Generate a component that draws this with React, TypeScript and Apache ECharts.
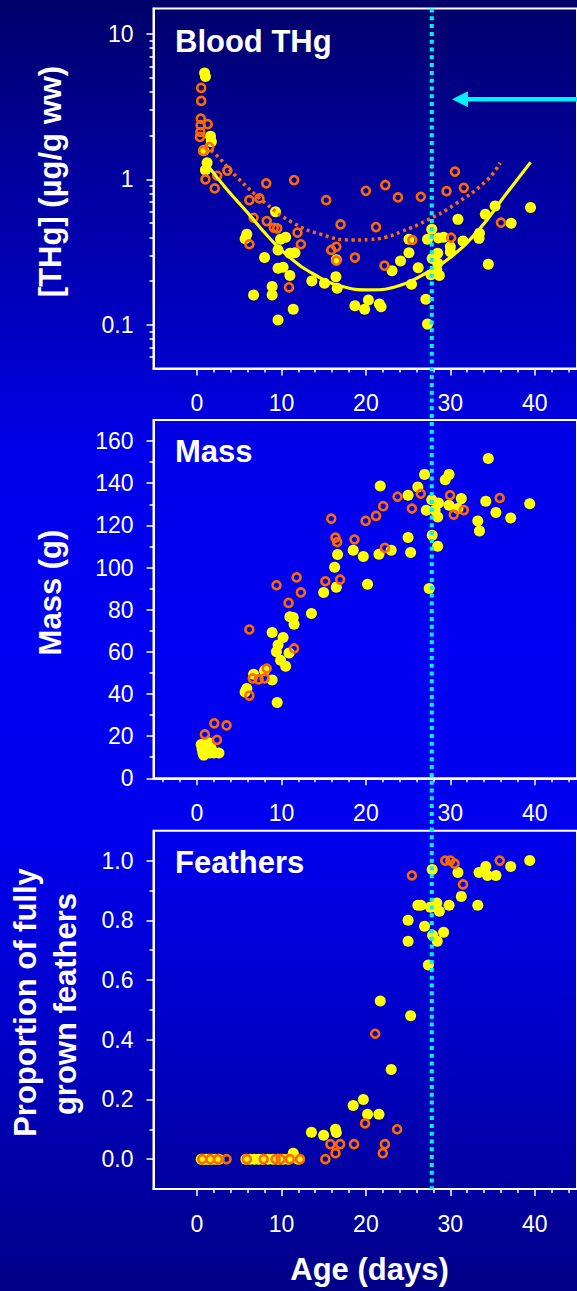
import { useEffect, useRef } from "react";
import * as echarts from "echarts";

const W = 577;
const H = 1291;
const FONT = "'Liberation Sans', Arial, Helvetica, sans-serif";

// ---- shared age axis ----
const X_MIN = -5.15;
const X_MAX = 45;
const X_MAJOR = [0, 10, 20, 30, 40];
const X_MINOR = [-4, -2, 2, 4, 6, 8, 12, 14, 16, 18, 22, 24, 26, 28, 32, 34, 36, 38, 42, 44];

// ---- Blood THg (µg/g ww), [age, value] ----
const thgFilled: [number, number][] = [
  [0.9, 5.4], [1.0, 5.1], [1.6, 1.98], [1.7, 1.82], [0.8, 1.58], [1.2, 1.3], [1.0, 1.16],
  [5.9, 0.42], [5.7, 0.39], [6.7, 0.16], [8.0, 0.29], [9.3, 0.6], [9.9, 0.387], [10.5, 0.4],
  [9.6, 0.327], [11.0, 0.31], [11.6, 0.313], [9.6, 0.245], [10.2, 0.249], [11.0, 0.218],
  [8.9, 0.183], [8.9, 0.16], [9.6, 0.108], [11.4, 0.128], [13.6, 0.2], [15.1, 0.193],
  [16.45, 0.214], [16.6, 0.178], [16.5, 0.28], [18.7, 0.135], [19.85, 0.128], [20.3, 0.148],
  [21.6, 0.139], [21.8, 0.133], [23.1, 0.235], [24.1, 0.275], [25.1, 0.313], [25.1, 0.387],
  [25.4, 0.19], [26.2, 0.247], [27.1, 0.15], [27.3, 0.101], [27.8, 0.454], [27.3, 0.387],
  [28.6, 0.395], [29.2, 0.4], [27.85, 0.286], [28.5, 0.31], [28.5, 0.265], [28.4, 0.238],
  [28.7, 0.218], [27.7, 0.221], [30.0, 0.344], [30.0, 0.318], [30.9, 0.531], [31.5, 0.377],
  [33.45, 0.426], [33.4, 0.393], [34.15, 0.575], [35.3, 0.656], [34.5, 0.261], [37.2, 0.499],
  [39.5, 0.642],
];
const thgOpen: [number, number][] = [
  [0.5, 4.26], [0.5, 3.47], [0.45, 2.62], [0.43, 2.36], [0.4, 2.12], [0.35, 1.96], [1.27, 2.4],
  [0.73, 1.57], [1.45, 1.67], [1.0, 1.0], [2.4, 1.06], [2.1, 0.867], [3.6, 1.15], [8.2, 0.94],
  [11.5, 0.99], [6.2, 0.72], [7.4, 0.74], [6.7, 0.545], [8.26, 0.517], [9.1, 0.465], [9.5, 0.46],
  [11.9, 0.43], [12.3, 0.358], [6.2, 0.358], [10.9, 0.181], [15.3, 0.72], [20.0, 0.835],
  [22.3, 0.914], [23.8, 0.752], [26.5, 0.76], [30.55, 1.13], [29.55, 0.83], [31.6, 0.875],
  [17.0, 0.49], [21.2, 0.47], [15.9, 0.327], [16.5, 0.344], [16.5, 0.276], [18.7, 0.29],
  [22.2, 0.255], [25.5, 0.383], [30.1, 0.397], [36.0, 0.504],
];
// fitted trends
const fitFilledAge = [1.4, 3.5, 6, 8.5, 11, 14, 17, 20.5, 24, 27, 30, 33.5, 36.5, 39.5];
const fitFilledTHg = [1.22, 0.86, 0.59, 0.4, 0.29, 0.22, 0.185, 0.174, 0.186, 0.225, 0.29, 0.46, 0.78, 1.31];
const fitOpenAge = [1.0, 2.2, 4.7, 8.2, 11.2, 14.6, 18.4, 20.5, 22.3, 24.2, 27.3, 30.4, 34.2, 35.9];
const fitOpenTHg = [1.68, 1.49, 1.04, 0.68, 0.51, 0.42, 0.383, 0.386, 0.4, 0.437, 0.525, 0.666, 0.97, 1.3];
const THG_MIN = 0.05;
const THG_MAX = 15;
const THG_MAJOR = [0.1, 1, 10];
const THG_MINOR = [0.06, 0.07, 0.08, 0.09, 0.2, 0.3, 0.4, 0.5, 0.6, 0.7, 0.8, 0.9, 2, 3, 4, 5, 6, 7, 8, 9];

// ---- Mass (g) ----
const massFilled: [number, number][] = [
  [0.5, 16], [0.6, 14], [0.7, 12], [0.8, 11], [1.0, 15], [1.1, 13], [1.3, 17], [1.5, 12],
  [1.7, 14], [2.0, 12], [2.6, 12],
  [5.9, 42.6], [5.7, 41], [6.7, 49.4], [8.0, 51], [8.9, 46.6], [9.5, 36], [8.9, 69.2],
  [10.2, 66.8], [9.6, 63.2], [9.4, 60], [9.9, 56], [10.5, 53.2], [10.9, 59.5], [11.0, 76.6],
  [11.4, 76.3], [11.5, 73.1], [13.55, 78.2], [15.0, 88.2], [16.5, 90.7], [16.3, 100.1],
  [16.65, 106.2], [18.5, 108.2], [19.7, 105.2], [20.2, 92.1], [21.55, 106.3], [23.0, 108.2],
  [21.7, 138.7], [25.0, 114.2], [25.3, 107.1], [25.0, 134.3], [26.15, 138.2], [26.95, 144.2],
  [27.5, 90], [27.15, 127.2], [27.8, 132.2], [28.2, 127.2], [28.6, 130.6], [28.5, 124],
  [27.85, 115.3], [28.5, 110.1], [29.4, 141.7], [29.85, 144.2], [29.85, 129.5], [31.3, 132.7],
  [30.9, 128], [33.25, 122.1], [33.45, 117.3], [34.2, 131.4], [34.5, 151.7], [35.4, 126.1],
  [37.15, 123.5], [39.4, 130.3],
];
const massOpen: [number, number][] = [
  [0.93, 20.8], [2.05, 26.1], [3.5, 25.1], [2.36, 18.2], [6.2, 39.2], [6.2, 70.6], [6.6, 47.4],
  [7.3, 46.9], [8.0, 47.4], [8.26, 52.1], [9.42, 91.6], [10.85, 83.2], [11.8, 95.3], [12.3, 88.2],
  [11.5, 61.6], [15.2, 93.5], [15.9, 123.2], [16.4, 114.2], [16.6, 112.1], [16.95, 94.3],
  [18.65, 113.3], [19.97, 122.1], [21.2, 124.5], [22.05, 129.1], [22.25, 109.3], [23.75, 133.6],
  [25.45, 128], [26.5, 135], [29.97, 134.3], [30.4, 125.1], [31.6, 127.2], [35.85, 133],
];
const MASS_MIN = 0;
const MASS_MAX = 170;
const MASS_MAJOR = [0, 20, 40, 60, 80, 100, 120, 140, 160];
const MASS_MINOR = [10, 30, 50, 70, 90, 110, 130, 150];

// ---- Proportion of fully grown feathers ----
const featherFilled: [number, number][] = [
  [0.5, 0], [0.8, 0], [1.1, 0], [1.4, 0], [1.8, 0], [2.2, 0], [2.6, 0], [5.8, 0], [6.3, 0],
  [6.8, 0], [7.3, 0], [7.8, 0], [8.4, 0], [9.0, 0], [9.6, 0], [10.2, 0], [10.8, 0], [12.0, 0],
  [11.4, 0.02], [13.55, 0.09], [15.0, 0.08], [16.4, 0.1], [16.5, 0.089], [18.5, 0.18],
  [19.7, 0.2], [20.2, 0.15], [21.55, 0.15], [23.0, 0.3], [21.7, 0.53], [25.3, 0.48], [25.0, 0.8],
  [25.0, 0.73], [26.15, 0.85], [26.5, 0.85], [26.95, 0.78], [27.4, 0.65], [27.85, 0.97],
  [27.65, 0.844], [28.4, 0.858], [28.7, 0.83], [27.9, 0.75], [28.45, 0.73], [29.2, 0.76],
  [29.85, 0.85], [30.9, 0.96], [31.3, 0.88], [33.25, 0.85], [33.4, 0.96], [34.2, 0.98],
  [34.4, 0.95], [35.4, 0.95], [37.15, 0.98], [39.4, 1.0],
];
const featherOpen: [number, number][] = [
  [0.62, 0], [1.58, 0], [2.47, 0], [3.5, 0], [5.9, 0], [7.9, 0], [9.3, 0], [9.9, 0], [11.0, 0],
  [12.2, 0], [15.2, 0], [15.8, 0.05], [16.95, 0.05], [16.4, 0.02], [18.6, 0.05], [19.9, 0.12],
  [21.1, 0.42], [22.25, 0.05], [22.0, 0.02], [23.7, 0.1], [25.45, 0.95], [29.4, 1.0], [30.0, 1.0],
  [30.5, 0.99], [31.5, 0.92], [35.85, 1.0],
];
const FEATHER_MIN = -0.1;
const FEATHER_MAX = 1.1;
const FEATHER_MAJOR = [0, 0.2, 0.4, 0.6, 0.8, 1.0];
const FEATHER_MINOR = [0.1, 0.3, 0.5, 0.7, 0.9];

// ---- annotations ----
const REFERENCE_AGE = 27.8; // dotted vertical marker
const ARROW_TIP: [number, number] = [30.2, 3.56];

const PANEL_TITLES = ["Blood THg", "Mass", "Feathers"];
const AXIS_TITLES = ["[THg] (µg/g ww)", "Mass (g)", "Proportion of fully", "grown feathers", "Age (days)"];

const YELLOW = "#ffff00";
const ORANGE = "#ff6a00";
const CYAN = "#00f2ff";
const WHITE = "#ffffff";

const GRID_LEFT = 153.5;
const GRID_WIDTH = (X_MAX - X_MIN) * 8.63;
const GRIDS = [
  { top: 8.5, height: 360 },
  { top: 420, height: 358.3 },
  { top: 830.7, height: 358.3 },
];

const log10 = (v: number) => Math.log10(v);

function xAxes(gridIndex: number, minorTicks: number[]) {
  const major = {
    type: "value",
    gridIndex,
    min: X_MIN,
    max: X_MAX,
    position: "bottom",
    axisLine: { show: true, onZero: false, lineStyle: { color: WHITE, width: 2 } },
    splitLine: { show: false },
    axisTick: { show: true, customValues: X_MAJOR, length: 7, lineStyle: { color: WHITE, width: 1.5 } },
    axisLabel: {
      show: true,
      customValues: X_MAJOR,
      color: WHITE,
      fontFamily: FONT,
      fontSize: 23,
      margin: 23,
    },
  };
  const minor = {
    type: "value",
    gridIndex,
    min: X_MIN,
    max: X_MAX,
    position: "bottom",
    axisLine: { show: false, onZero: false },
    splitLine: { show: false },
    axisTick: { show: true, customValues: minorTicks, length: 4, lineStyle: { color: WHITE, width: 1.5 } },
    axisLabel: { show: false },
  };
  return [major, minor];
}

function yAxes(
  gridIndex: number,
  min: number,
  max: number,
  majorTicks: number[],
  minorTicks: number[],
  fmt: (v: number) => string
) {
  const major = {
    type: "value",
    gridIndex,
    min,
    max,
    position: "left",
    axisLine: { show: true, onZero: false, lineStyle: { color: WHITE, width: 2 } },
    splitLine: { show: false },
    axisTick: { show: true, customValues: majorTicks, length: 7, lineStyle: { color: WHITE, width: 1.5 } },
    axisLabel: {
      show: true,
      customValues: majorTicks,
      formatter: fmt,
      color: WHITE,
      fontFamily: FONT,
      fontSize: 23,
      margin: 20,
    },
  };
  const minor = {
    type: "value",
    gridIndex,
    min,
    max,
    position: "left",
    axisLine: { show: false, onZero: false },
    splitLine: { show: false },
    axisTick: { show: true, customValues: minorTicks, length: 4, lineStyle: { color: WHITE, width: 1.5 } },
    axisLabel: { show: false },
  };
  return [major, minor];
}

function filled(data: [number, number][], axis: number) {
  return {
    type: "scatter",
    xAxisIndex: axis,
    yAxisIndex: axis,
    data,
    symbol: "circle",
    symbolSize: 11,
    itemStyle: { color: YELLOW, opacity: 1 },
    z: 3,
    silent: true,
  };
}

function open(data: [number, number][], axis: number) {
  return {
    type: "scatter",
    xAxisIndex: axis,
    yAxisIndex: axis,
    data,
    symbol: "circle",
    symbolSize: 8,
    itemStyle: { color: "rgba(0,0,0,0)", borderColor: ORANGE, borderWidth: 2.6, opacity: 1 },
    z: 4,
    silent: true,
  };
}

const thgLabel = (v: number) => {
  const r = Math.round(v);
  return r === -1 ? "0.1" : r === 0 ? "1" : "10";
};

function buildOption() {
  const toLog = (d: [number, number][]) => d.map(([a, v]) => [a, log10(v)] as [number, number]);
  return {
    animation: false,
    backgroundColor: "transparent",
    grid: GRIDS.map((g) => ({
      left: GRID_LEFT,
      top: g.top,
      width: GRID_WIDTH,
      height: g.height,
      show: true,
      backgroundColor: "transparent",
      borderColor: WHITE,
      borderWidth: 2,
      containLabel: false,
    })),
    xAxis: [
      ...xAxes(0, X_MINOR.filter((v) => v > 0)),
      ...xAxes(1, X_MINOR),
      ...xAxes(2, X_MINOR.filter((v) => v > 0)),
    ],
    yAxis: [
      ...yAxes(0, log10(THG_MIN), log10(THG_MAX), THG_MAJOR.map(log10), THG_MINOR.map(log10), thgLabel),
      ...yAxes(1, MASS_MIN, MASS_MAX, MASS_MAJOR, MASS_MINOR, (v: number) => String(Math.round(v))),
      ...yAxes(2, FEATHER_MIN, FEATHER_MAX, FEATHER_MAJOR, FEATHER_MINOR, (v: number) => v.toFixed(1)),
    ],
    series: [
      filled(toLog(thgFilled), 0),
      open(toLog(thgOpen), 0),
      {
        type: "line",
        xAxisIndex: 0,
        yAxisIndex: 0,
        data: fitOpenAge.map((a, i) => [a, log10(fitOpenTHg[i])]),
        smooth: 0.5,
        showSymbol: false,
        symbol: "none",
        lineStyle: { color: ORANGE, width: 3.5, type: [3, 3.6], cap: "butt" },
        z: 5,
        silent: true,
      },
      {
        type: "line",
        xAxisIndex: 0,
        yAxisIndex: 0,
        data: fitFilledAge.map((a, i) => [a, log10(fitFilledTHg[i])]),
        smooth: 0.5,
        showSymbol: false,
        symbol: "none",
        lineStyle: { color: YELLOW, width: 3.2 },
        z: 6,
        silent: true,
      },
      filled(massFilled, 2),
      open(massOpen, 2),
      filled(featherFilled, 4),
      open(featherOpen, 4),
    ],
  };
}

export default function App() {
  const ref = useRef<HTMLDivElement>(null);

  useEffect(() => {
    document.body.style.margin = "0";
    const el = ref.current;
    if (!el) return;
    const chart = echarts.init(el, null, { renderer: "svg", width: W, height: H });
    chart.setOption(buildOption() as any);

    // overlay: reference line, arrow and texts, positioned through the axes
    const refX = chart.convertToPixel({ xAxisIndex: 0 }, REFERENCE_AGE) as number;
    const topY = chart.convertToPixel({ yAxisIndex: 0 }, log10(THG_MAX)) as number;
    const bottomY = chart.convertToPixel({ yAxisIndex: 4 }, FEATHER_MIN) as number;
    const tipX = chart.convertToPixel({ xAxisIndex: 0 }, ARROW_TIP[0]) as number;
    const tipY = chart.convertToPixel({ yAxisIndex: 0 }, log10(ARROW_TIP[1])) as number;

    const titleFont = `bold 31px ${FONT}`;
    const txt = (text: string, x: number, y: number, rotation = 0, align = "left") => ({
      type: "text",
      x,
      y,
      rotation,
      silent: true,
      z: 50,
      style: {
        text,
        fill: WHITE,
        font: titleFont,
        textAlign: align,
        textVerticalAlign: "middle",
        align,
        verticalAlign: "middle",
      },
    });

    chart.setOption({
      graphic: [
        {
          type: "line",
          silent: true,
          z: 100,
          shape: { x1: refX, y1: topY, x2: refX, y2: bottomY },
          style: { stroke: CYAN, lineWidth: 4, lineDash: [4, 3.8] },
        },
        {
          type: "line",
          silent: true,
          z: 100,
          shape: { x1: tipX + 12, y1: tipY, x2: W + 20, y2: tipY },
          style: { stroke: CYAN, lineWidth: 4.5 },
        },
        {
          type: "polygon",
          silent: true,
          z: 100,
          shape: { points: [[tipX, tipY], [tipX + 16, tipY - 8], [tipX + 16, tipY + 8]] },
          style: { fill: CYAN },
        },
        txt(PANEL_TITLES[0], 175, 41),
        txt(PANEL_TITLES[1], 175, 451),
        txt(PANEL_TITLES[2], 175, 862.5),
        txt(AXIS_TITLES[0], 50.5, 181.5, Math.PI / 2, "center"),
        txt(AXIS_TITLES[1], 50.5, 592.5, Math.PI / 2, "center"),
        txt(AXIS_TITLES[2], 25, 1002.5, Math.PI / 2, "center"),
        txt(AXIS_TITLES[3], 65.5, 1004, Math.PI / 2, "center"),
        txt(AXIS_TITLES[4], 369.5, 1269.5, 0, "center"),
      ],
    } as any);

    return () => chart.dispose();
  }, []);

  return (
    <div
      style={{
        width: W,
        height: H,
        position: "relative",
        overflow: "hidden",
        background:
          "linear-gradient(180deg, #00006a 0%, #00009a 12%, #0000c4 26%, #0000ea 35%, #0000f2 50%, #0000ee 64%, #0000c8 80%, #0000a0 92%, #000088 100%)",
      }}
    >
      <div ref={ref} style={{ width: W, height: H }} />
    </div>
  );
}
